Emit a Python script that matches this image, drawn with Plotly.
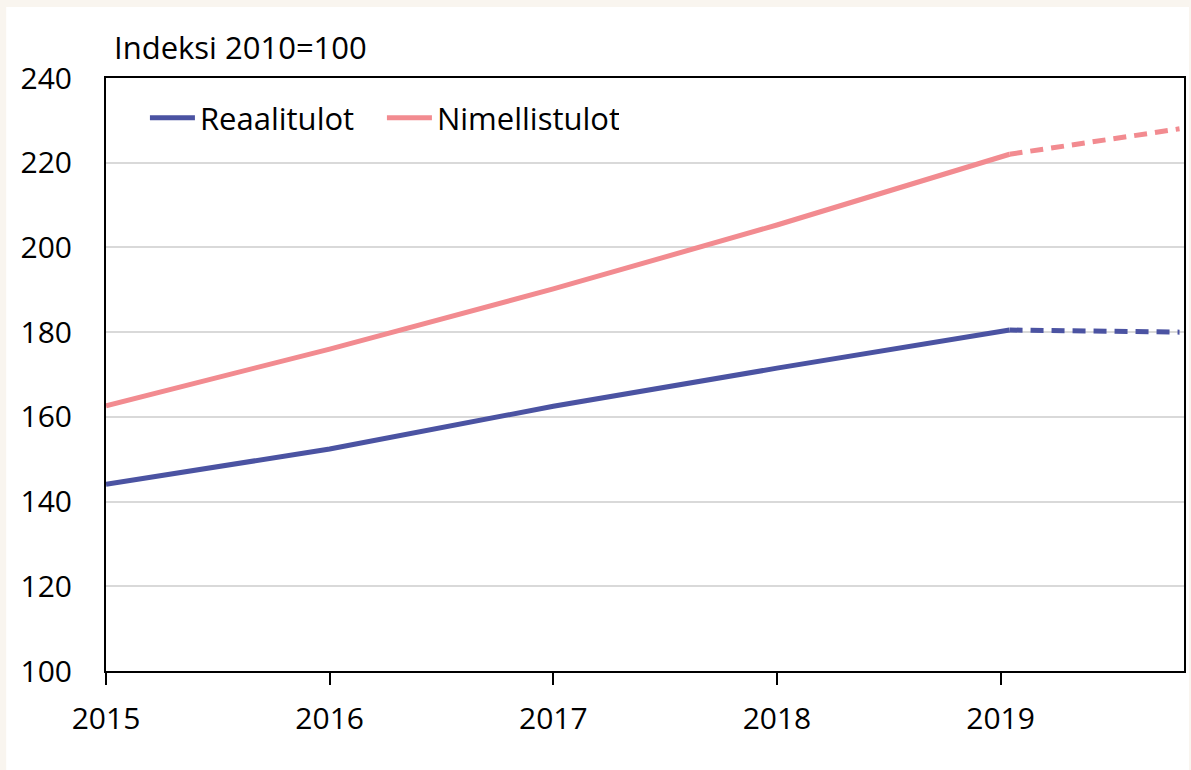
import plotly.graph_objects as go

years = [2015, 2016, 2017, 2018, 2019.04]
reaali = [144.1, 152.4, 162.5, 171.5, 180.5]
nimelli = [162.6, 176.0, 190.2, 205.3, 222.0]
fc_years = [2019.04, 2019.8]
reaali_fc = [180.5, 180.0]
nimelli_fc = [222.0, 228.0]
xticks = [2015, 2016, 2017, 2018, 2019]
yticks = [100, 120, 140, 160, 180, 200, 220, 240]

BLUE = "#4b53a2"
PINK = "#f28b90"
FONT = "Open Sans"

W, H = 1191, 770
L, R, T, B = 106, 5, 78, 99
pw, ph = W - L - R, H - T - B

fig = go.Figure()
fig.add_trace(go.Scatter(x=years, y=reaali, mode="lines", name="Reaalitulot",
                         line=dict(color=BLUE, width=5)))
fig.add_trace(go.Scatter(x=years, y=nimelli, mode="lines", name="Nimellistulot",
                         line=dict(color=PINK, width=5)))
fig.add_trace(go.Scatter(x=fc_years, y=reaali_fc, mode="lines", showlegend=False,
                         line=dict(color=BLUE, width=5, dash="13px,8px")))
fig.add_trace(go.Scatter(x=fc_years, y=nimelli_fc, mode="lines", showlegend=False,
                         line=dict(color=PINK, width=5, dash="13px,8px")))

fig.add_shape(type="rect", xref="paper", yref="paper",
              x0=(6 - L) / pw, x1=(W - L) / pw,
              y0=(T + ph - H) / ph, y1=(T + ph - 7) / ph,
              fillcolor="white", line=dict(width=0), layer="below")

fig.add_annotation(text="Indeksi 2010=100", xref="paper", yref="paper",
                   x=(112 - L) / pw, y=(T + ph - 47) / ph, xanchor="left", yanchor="middle",
                   showarrow=False, font=dict(family=FONT, size=31, color="black"))

fig.update_layout(
    width=W, height=H,
    margin=dict(l=L, r=R, t=T, b=B),
    paper_bgcolor="#f9f5ef", plot_bgcolor="white",
    font=dict(family=FONT, size=30, color="black"),
    showlegend=True,
    legend=dict(orientation="h", x=(145 - L) / pw, y=(T + ph - 118) / ph,
                xanchor="left", yanchor="middle", bgcolor="rgba(0,0,0,0)",
                font=dict(family=FONT, size=31), itemwidth=45,
                entrywidth=177, entrywidthmode="pixels"),
)
fig.update_xaxes(range=[2015, 2019.82], tickvals=xticks, ticktext=[str(v) for v in xticks],
                 ticks="outside", ticklen=12, tickwidth=1.5, tickcolor="black",
                 showline=True, linecolor="black", linewidth=2, mirror=True,
                 showgrid=False, zeroline=False, ticklabelstandoff=8)
fig.update_yaxes(range=[100, 240], tickvals=yticks, ticks="",
                 showline=True, linecolor="black", linewidth=2, mirror=True,
                 showgrid=True, gridcolor="#d9d9d9", gridwidth=2, zeroline=False,
                 ticklabelstandoff=26)

fig.write_html("out.html", config={"displayModeBar": False},
               post_script="document.body.style.margin='0';document.body.style.padding='0';")
